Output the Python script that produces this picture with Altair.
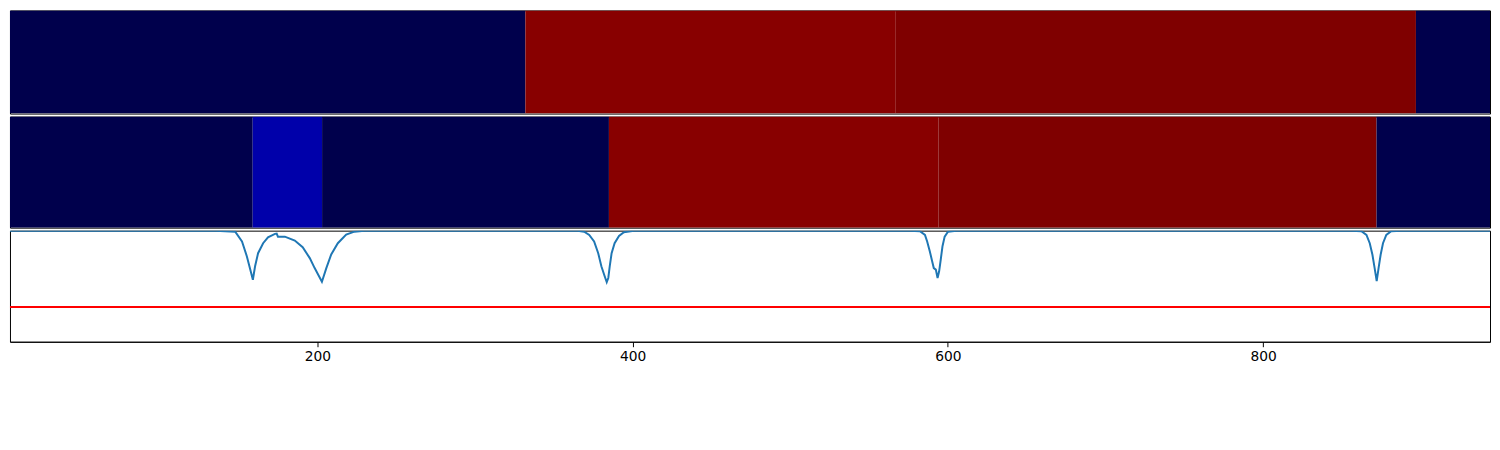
import altair as alt
import pandas as pd

# Row 1 of the image strip (segment boundaries in x units and colour value)
row1_start = [0, 332, 567, 897]
row1_end = [332, 567, 897, 944]
row1_val = [0.0, 0.983, 1.0, 0.0]

# Row 2 of the image strip
row2_start = [0, 159, 203, 385, 594, 872]
row2_end = [159, 203, 385, 594, 872, 944]
row2_val = [0.0, 0.131, 0.0, 0.983, 1.0, 0.0]

# Signal curve
curve_x = [0, 135.3, 147.9, 152.2, 155.3, 157.4, 159.1, 160.5, 162.4, 165.6, 168.7, 173.1, 174.2,
           175.0, 179.4, 185.7, 190.7, 195.2, 198.3, 202.9, 205.7, 208.8, 213.0, 218.3, 223.5, 229.8,
           365.1, 369.3, 372.5, 375.6, 378.2, 380.2, 382.3, 383.6, 384.6, 385.5, 386.7, 388.6, 391.4,
           394.5, 400.8,
           576.0, 582.3, 585.5, 586.9, 588.6, 590.1, 591.1, 592.4, 593.5, 594.5, 595.5, 596.6, 598.0,
           600.1, 605.4,
           856.1, 862.4, 865.6, 867.7, 869.4, 870.8, 872.1, 873.3, 874.6, 876.1, 878.2, 881.3, 887.6,
           944]
curve_y = [1.0, 1.0, 0.991, 0.902, 0.768, 0.652, 0.558, 0.679, 0.797, 0.887, 0.940, 0.971, 0.973,
           0.946, 0.946, 0.911, 0.851, 0.753, 0.663, 0.540, 0.663, 0.786, 0.887, 0.964, 0.991, 1.0,
           1.0, 0.991, 0.962, 0.902, 0.797, 0.679, 0.589, 0.536, 0.574, 0.679, 0.797, 0.887, 0.953,
           0.985, 1.0,
           1.0, 0.994, 0.962, 0.902, 0.8125, 0.723, 0.663, 0.649, 0.574, 0.634, 0.738, 0.857, 0.946,
           0.991, 1.0,
           1.0, 0.994, 0.962, 0.887, 0.783, 0.663, 0.545, 0.663, 0.783, 0.887, 0.962, 0.994, 1.0,
           1.0]
threshold = [0.3125]

x_ticks = [0, 200, 400, 600, 800]

seismic_domain = [0, 0.25, 0.5, 0.75, 1.0]
seismic_range = ["#00004c", "#0000ff", "#ffffff", "#ff0000", "#7f0000"]

# visible x window of the (cropped) figure
X_DOMAIN = [5, 944]
W = 1492

color_scale = alt.Scale(domain=seismic_domain, range=seismic_range, interpolate="rgb")
x_scale = alt.Scale(domain=X_DOMAIN, nice=False, zero=False)


def strip(starts, ends, vals, h):
    df = pd.DataFrame({"start": starts, "end": ends, "val": vals})
    return alt.Chart(df).mark_rect(clip=True).encode(
        x=alt.X("start:Q", scale=x_scale, axis=None),
        x2="end:Q",
        color=alt.Color("val:Q", scale=color_scale, legend=None),
    ).properties(width=W, height=h)


top = strip(row1_start, row1_end, row1_val, 104)
mid = strip(row2_start, row2_end, row2_val, 112)

curve_df = pd.DataFrame({"x": curve_x, "y": curve_y})
line = alt.Chart(curve_df).mark_line(color="#1f77b4", strokeWidth=2, clip=True).encode(
    x=alt.X("x:Q", scale=x_scale,
            axis=alt.Axis(values=x_ticks, title=None, grid=False, labelFont="DejaVu Sans",
                          labelFontSize=13.9, labelColor="black", tickColor="black",
                          domainColor="black", tickSize=5, labelPadding=3, domainWidth=1,
                          tickWidth=1, labelFlush=False)),
    y=alt.Y("y:Q", scale=alt.Scale(domain=[0, 1], nice=False, zero=False), axis=None),
)
rule = alt.Chart(pd.DataFrame({"t": threshold})).mark_rule(color="#ff0000", strokeWidth=2).encode(
    y=alt.Y("t:Q", scale=alt.Scale(domain=[0, 1], nice=False, zero=False), axis=None),
)
bottom = alt.layer(line, rule).properties(width=W, height=112)

chart = alt.vconcat(top, mid, bottom, spacing=1).properties(
    padding={"left": 0, "top": 0, "right": 0, "bottom": 0},
    background="white",
).configure_view(stroke="black", strokeWidth=1)

chart.save("out.html", embed_options={"renderer": "svg", "actions": False})
